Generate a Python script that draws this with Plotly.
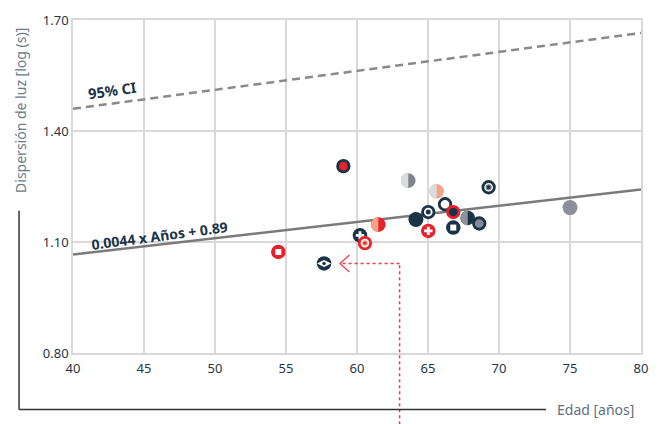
import plotly.graph_objects as go

# ---- data -------------------------------------------------------------
# One entry per patient: age (years), log light-scatter value, marker style
ages = [54.46, 57.68, 59.04, 60.21, 60.56, 61.50, 63.61, 64.15, 65.02,
        65.02, 65.61, 66.20, 66.78, 66.78, 67.80, 68.61, 69.27, 75.00]
dispersion = [1.073, 1.042, 1.305, 1.118, 1.097, 1.147, 1.266, 1.161, 1.181,
              1.130, 1.237, 1.202, 1.181, 1.139, 1.165, 1.150, 1.248, 1.193]
marker_styles = ["red_square", "navy_eye", "red_dark_ring", "navy_plus",
                 "red_ring_dot", "half_salmon_red", "half_light_gray", "navy",
                 "navy_target", "red_plus", "half_light_salmon", "navy_ring",
                 "navy_red_ring", "navy_square", "half_gray_navy",
                 "gray_navy_ring", "navy_target_gray", "gray"]

# Fitted line (Años -> log dispersion) and upper 95% confidence bound
slope, intercept = 0.0044, 0.89
age_range = [40, 80]
ci_upper = [1.46, 1.665]

x_ticks = [40, 45, 50, 55, 60, 65, 70, 75, 80]
y_ticks = [0.80, 1.10, 1.40, 1.70]

# Highlighted patient and the bend of the pointer line
highlight = 1
pointer_bend_age = 63.0
pointer_tip_age = 58.8

# ---- styling ----------------------------------------------------------
NAVY = "#1b3346"
RED = "#e8212b"
SALMON = "#f4a386"
LIGHT = "#d9dbdf"
GRAY = "#858a95"
GRID = "#d9d9d9"
FIT = "#7a7a7a"
FONT = "Noto Sans"

# layered scatter markers: (symbol, size, fill, line colour, line width)
STYLES = {
    "red_dark_ring": [("circle", 11.5, RED, NAVY, 2.8)],
    "red_square": [("circle", 14.5, RED, None, 0), ("square", 6, "white", None, 0)],
    "navy_eye": [("circle", 14.5, NAVY, None, 0), ("diamond-wide", 10, "white", None, 0),
                 ("circle", 3.5, NAVY, None, 0)],
    "navy_plus": [("circle", 14.5, NAVY, None, 0), ("cross", 7, "white", None, 0)],
    "red_plus": [("circle", 14.5, RED, None, 0), ("cross", 7, "white", None, 0)],
    "red_ring_dot": [("circle", 11.5, "white", RED, 2.8), ("circle", 4.5, RED, SALMON, 1.2)],
    "navy": [("circle", 15, NAVY, None, 0)],
    "navy_target": [("circle", 11.5, "white", NAVY, 2.8), ("circle", 5, NAVY, None, 0)],
    "navy_target_gray": [("circle", 11.5, "white", NAVY, 2.8), ("circle", 5, NAVY, GRAY, 1.2)],
    "navy_ring": [("circle", 11.5, "white", NAVY, 2.8)],
    "navy_red_ring": [("circle", 11.5, NAVY, RED, 2.8)],
    "navy_square": [("circle", 14.5, NAVY, None, 0), ("square", 6, "white", None, 0)],
    "gray_navy_ring": [("circle", 11.5, GRAY, NAVY, 2.8)],
    "gray": [("circle", 15, "#8b909b", None, 0)],
}
# two-tone markers: (left half, right half)
HALVES = {
    "half_light_gray": (LIGHT, "#80858f"),
    "half_light_salmon": (LIGHT, SALMON),
    "half_salmon_red": (SALMON, RED),
    "half_gray_navy": ("#8d929c", NAVY),
}

fig = go.Figure()
shapes = []

# fitted line and confidence bound drawn under the markers
fit_y = [slope * a + intercept for a in age_range]
shapes.append(dict(type="line", xref="x", yref="y", layer="between",
                   x0=age_range[0], y0=fit_y[0], x1=age_range[1], y1=fit_y[1],
                   line=dict(color=FIT, width=2.5)))
shapes.append(dict(type="line", xref="x", yref="y", layer="between",
                   x0=age_range[0], y0=ci_upper[0], x1=age_range[1], y1=ci_upper[1],
                   line=dict(color="#8a8a8a", width=2.5, dash="8px,5px")))


def half_path(r, side):
    k = 0.5523 * r * side
    s = r * side
    return (f"M 0,{-r} C {k},{-r} {s},{-0.5523 * r} {s},0 "
            f"C {s},{0.5523 * r} {k},{r} 0,{r} Z")


R = 7.3
for age, val, style in zip(ages, dispersion, marker_styles):
    if style in HALVES:
        left, right = HALVES[style]
        common = dict(xref="x", yref="y", xsizemode="pixel", ysizemode="pixel",
                      xanchor=age, yanchor=val, layer="between", line=dict(width=0))
        shapes.append(dict(type="circle", x0=-R, x1=R, y0=-R, y1=R,
                           fillcolor=right, **common))
        shapes.append(dict(type="path", path=half_path(R, -1),
                           fillcolor=left, **common))
        continue
    for symbol, size, fill, lcol, lw in STYLES[style]:
        fig.add_trace(go.Scatter(
            x=[age], y=[val], mode="markers", hoverinfo="skip", showlegend=False,
            marker=dict(symbol=symbol, size=size, color=fill,
                        line=dict(color=lcol or fill, width=lw)),
        ))

# dotted pointer to the highlighted patient
hv = dispersion[highlight]
hv_paper = (hv - y_ticks[0]) / (y_ticks[-1] - y_ticks[0])
pointer = dict(color="#ee3b44", width=1.5, dash="dot")
shapes.append(dict(type="line", xref="x", yref="paper", layer="above",
                   x0=pointer_bend_age, x1=pointer_bend_age, y0=-0.25, y1=hv_paper,
                   line=pointer))
shapes.append(dict(type="line", xref="x", yref="y", layer="above",
                   x0=pointer_bend_age, x1=pointer_tip_age, y0=hv, y1=hv,
                   line=pointer))
shapes.append(dict(type="path", xref="x", yref="y", xsizemode="pixel", ysizemode="pixel",
                   xanchor=pointer_tip_age, yanchor=hv, layer="above",
                   path="M 9.5,8.5 L 0,0 L 9.5,-8.5", line=dict(color="#ee3b44", width=1.2)))

# L-shaped outer axes
AX = "#333333"
shapes.append(dict(type="line", xref="paper", yref="paper", x0=-0.095, x1=-0.095,
                   y0=-0.1696, y1=0.4269, line=dict(color=AX, width=1.5)))
shapes.append(dict(type="line", xref="paper", yref="paper", x0=-0.095, x1=0.8327,
                   y0=-0.1696, y1=-0.1696, line=dict(color=AX, width=1.5)))

annotations = [
    dict(text="<b>0.0044 x Años + 0.89</b>", x=46.1, y=1.117, xref="x", yref="y",
         showarrow=False, textangle=-7.5, font=dict(family=FONT, size=14, color=NAVY)),
    dict(text="<b>95% CI</b>", x=42.75, y=1.51, xref="x", yref="y",
         showarrow=False, textangle=-8, font=dict(family=FONT, size=14.5, color=NAVY)),
    dict(text="Dispersión de luz [log (s)]", x=-0.0915, y=0.727, xref="paper", yref="paper",
         showarrow=False, textangle=-90, xanchor="center", yanchor="middle",
         font=dict(family=FONT, size=14, color="#6b7b89")),
    dict(text="Edad [años]", x=0.8486, y=-0.1696, xref="paper", yref="paper",
         showarrow=False, xanchor="left", yanchor="middle",
         font=dict(family=FONT, size=14, color="#5f6f7d")),
]

fig.update_layout(
    width=661, height=424,
    margin=dict(l=73, r=20, t=11, b=71),
    paper_bgcolor="white", plot_bgcolor="white",
    shapes=shapes, annotations=annotations,
    font=dict(family=FONT, size=13, color="#243646"),
    xaxis=dict(range=age_range, tickvals=x_ticks, showgrid=True, gridcolor=GRID,
               gridwidth=1.5, zeroline=False, showline=True, mirror=True,
               linecolor=GRID, linewidth=1.5, ticks="", ticklabelstandoff=3,
               fixedrange=True),
    yaxis=dict(range=[y_ticks[0], y_ticks[-1]], tickvals=y_ticks, tickformat=".2f",
               showgrid=True, gridcolor=GRID, gridwidth=1.5, zeroline=False,
               showline=True, mirror=True, linecolor=GRID, linewidth=1.5,
               ticks="", fixedrange=True),
)

fig.write_html("out.html")
